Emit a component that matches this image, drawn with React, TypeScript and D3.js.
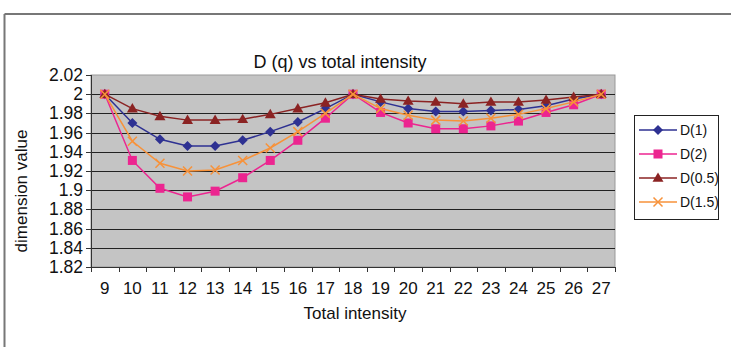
import React from "react";
import * as d3 from "d3";

const categories = [9, 10, 11, 12, 13, 14, 15, 16, 17, 18, 19, 20, 21, 22, 23, 24, 25, 26, 27];
const seriesNames = ["D(1)", "D(2)", "D(0.5)", "D(1.5)"];
const d1 = [2.0, 1.970, 1.953, 1.946, 1.946, 1.952, 1.961, 1.971, 1.985, 2.0, 1.992, 1.985, 1.982, 1.982, 1.983, 1.984, 1.988, 1.995, 2.0];
const d2 = [2.0, 1.931, 1.902, 1.893, 1.899, 1.913, 1.931, 1.952, 1.975, 2.0, 1.981, 1.970, 1.964, 1.964, 1.967, 1.972, 1.981, 1.989, 2.0];
const d05 = [2.0, 1.985, 1.977, 1.973, 1.973, 1.974, 1.979, 1.985, 1.991, 2.0, 1.995, 1.993, 1.992, 1.990, 1.992, 1.992, 1.994, 1.997, 2.0];
const d15 = [2.0, 1.951, 1.928, 1.920, 1.921, 1.931, 1.944, 1.961, 1.980, 2.0, 1.985, 1.978, 1.973, 1.972, 1.975, 1.979, 1.985, 1.992, 2.0];
const yTicks = [1.82, 1.84, 1.86, 1.88, 1.9, 1.92, 1.94, 1.96, 1.98, 2.0, 2.02];

const colors = ["#2e3192", "#ec2590", "#8b2323", "#f7923a"];
const markers = ["diamond", "square", "triangle", "x"];

const W = 731, H = 347;
const L = 91, R = 615, T = 75, B = 267;
const font = "Liberation Sans, Arial, sans-serif";

function Marker({ type, x, y, color }: { type: string; x: number; y: number; color: string }) {
  if (type === "diamond") {
    const s = 5;
    return <path d={`M${x},${y - s}L${x + s},${y}L${x},${y + s}L${x - s},${y}Z`} fill={color} />;
  }
  if (type === "square") {
    const s = 4.5;
    return <rect x={x - s} y={y - s} width={2 * s} height={2 * s} fill={color} />;
  }
  if (type === "triangle") {
    const s = 5.5;
    return <path d={`M${x},${y - s}L${x + s},${y + s * 0.7}L${x - s},${y + s * 0.7}Z`} fill={color} />;
  }
  const s = 4.5;
  return (
    <path d={`M${x - s},${y - s}L${x + s},${y + s}M${x - s},${y + s}L${x + s},${y - s}`} stroke={color} strokeWidth={1.5} fill="none" />
  );
}

export default function App() {
  const series = [d1, d2, d05, d15];
  const x = d3.scaleBand<number>().domain(categories).range([L, R]);
  const y = d3.scaleLinear().domain([1.82, 2.02]).range([B, T]);
  const line = d3
    .line<number>()
    .x((_, i) => (x(categories[i]) as number) + x.bandwidth() / 2)
    .y((v) => y(v));

  const boundaries = categories.map((c) => x(c) as number).concat([R]);

  return (
    <svg width={W} height={H} style={{ position: "absolute", left: 0, top: 0 }} fontFamily={font}>
      <rect x={0} y={0} width={W} height={H} fill="#fff" />
      {/* outer frame */}
      <line x1={4.5} y1={14} x2={W} y2={14} stroke="#777" strokeWidth={2} />
      <line x1={4.5} y1={14} x2={4.5} y2={H} stroke="#777" strokeWidth={2} />

      <text x={340} y={68} textAnchor="middle" fontSize={18} fill="#111">D (q) vs total intensity</text>

      {/* plot area */}
      <rect x={L} y={T} width={R - L} height={B - T} fill="#c4c4c4" stroke="#999" strokeWidth={1} />
      {yTicks.slice(1, -1).map((t) => (
        <line key={t} x1={L} x2={R} y1={Math.round(y(t)) + 0.5} y2={Math.round(y(t)) + 0.5} stroke="#222" strokeWidth={1} />
      ))}
      {/* axes */}
      <line x1={L + 0.5} x2={L + 0.5} y1={T} y2={B} stroke="#333" strokeWidth={1} />
      <line x1={L} x2={R} y1={B + 0.5} y2={B + 0.5} stroke="#333" strokeWidth={1} />
      {yTicks.map((t) => (
        <g key={t}>
          <line x1={L - 5} x2={L} y1={Math.round(y(t)) + 0.5} y2={Math.round(y(t)) + 0.5} stroke="#333" />
          <text x={83} y={y(t) + 6} textAnchor="end" fontSize={17.5} fill="#111">
            {d3.format("")(+t.toFixed(2))}
          </text>
        </g>
      ))}
      {boundaries.map((b, i) => (
        <line key={i} x1={Math.round(b) + 0.5} x2={Math.round(b) + 0.5} y1={B} y2={B + 5} stroke="#333" />
      ))}
      {categories.map((c) => (
        <text key={c} x={(x(c) as number) + x.bandwidth() / 2} y={294} textAnchor="middle" fontSize={17} fill="#111">
          {c}
        </text>
      ))}
      <text x={355} y={319} textAnchor="middle" fontSize={17} fill="#111">Total intensity</text>
      <text transform="translate(27,191) rotate(-90)" textAnchor="middle" fontSize={17} fill="#111">dimension value</text>

      {/* series */}
      {series.map((s, si) => (
        <g key={si}>
          <path d={line(s) as string} fill="none" stroke={colors[si]} strokeWidth={1.5} />
          {s.map((v, i) => (
            <Marker key={i} type={markers[si]} x={(x(categories[i]) as number) + x.bandwidth() / 2} y={y(v)} color={colors[si]} />
          ))}
        </g>
      ))}

      {/* legend */}
      <rect x={634.5} y={115.5} width={84} height={104} fill="#fff" stroke="#222" strokeWidth={1} />
      {seriesNames.map((n, i) => {
        const ly = 130 + i * 24;
        return (
          <g key={n}>
            <line x1={639} x2={677} y1={ly} y2={ly} stroke={colors[i]} strokeWidth={1.5} />
            <Marker type={markers[i]} x={658} y={ly} color={colors[i]} />
            <text x={680} y={ly + 5} fontSize={14} fill="#111">{n}</text>
          </g>
        );
      })}
    </svg>
  );
}
